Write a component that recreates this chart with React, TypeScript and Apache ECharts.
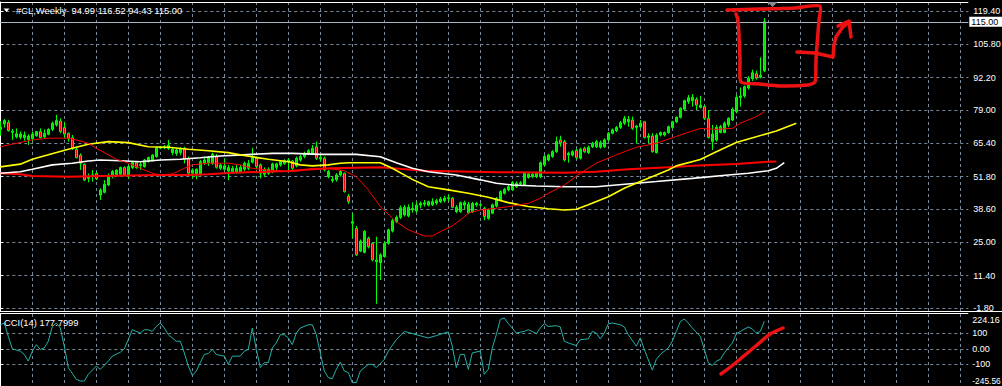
import React, { useEffect, useRef } from "react";
import * as echarts from "echarts";

// ---------- data ----------
// weekly OHLC of #CL, one row per bar: [open, high, low, close]
const ohlc: number[][] = [
  [71.0, 74.5, 68.5, 72.0], [73.3, 75.3, 71.8, 74.7], [74.0, 75.0, 70.2, 70.6], [69.9, 71.3, 66.8, 70.4],
  [68.1, 71.5, 67.4, 69.3], [67.9, 70.2, 67.0, 69.2], [67.7, 70.2, 66.5, 68.8], [67.0, 69.1, 64.7, 68.4],
  [67.3, 70.2, 66.1, 69.2], [68.5, 70.4, 68.1, 70.2], [70.2, 71.5, 67.4, 67.7], [68.1, 71.1, 67.4, 69.5],
  [69.1, 71.5, 68.7, 71.1], [71.1, 74.3, 70.4, 73.6], [72.9, 77.0, 72.2, 74.7], [74.5, 75.6, 69.5, 70.2],
  [71.9, 74.2, 67.4, 69.2], [69.5, 69.8, 66.1, 67.4], [67.7, 68.8, 62.7, 63.4], [62.9, 64.1, 59.3, 59.5],
  [60.6, 61.3, 54.5, 57.2], [56.8, 57.2, 50.0, 50.4], [51.1, 53.1, 49.5, 51.8], [51.8, 54.5, 49.8, 52.5],
  [53.1, 53.8, 50.4, 50.9], [44.3, 47.0, 42.3, 46.4], [45.4, 50.4, 45.0, 48.7], [48.4, 53.1, 48.0, 52.1],
  [52.1, 54.5, 51.1, 53.9], [52.5, 54.8, 51.8, 54.5], [52.8, 55.9, 52.1, 55.5], [55.5, 56.0, 52.0, 52.5],
  [52.5, 56.6, 50.9, 55.9], [55.5, 58.2, 54.9, 57.6], [57.5, 58.0, 55.0, 55.5], [56.3, 57.6, 54.5, 56.8],
  [55.9, 59.0, 55.5, 58.6], [57.9, 60.0, 57.6, 59.6], [58.6, 61.0, 58.0, 60.6], [60.0, 64.0, 59.5, 63.6],
  [63.4, 64.3, 63.0, 63.8], [63.6, 64.7, 63.0, 63.9], [63.4, 66.8, 62.7, 64.7], [61.6, 64.0, 60.6, 63.0],
  [61.3, 63.4, 60.3, 62.7], [61.6, 63.8, 60.6, 63.0], [63.4, 64.0, 57.2, 58.9], [59.3, 60.0, 52.5, 53.2],
  [53.2, 55.2, 51.1, 54.5], [52.5, 55.2, 50.7, 54.8], [52.5, 58.6, 52.1, 57.9], [57.5, 60.0, 56.6, 58.6],
  [57.5, 60.2, 56.2, 59.7], [57.2, 61.6, 56.6, 60.9], [60.0, 61.0, 55.1, 55.6], [55.2, 57.2, 54.5, 56.6],
  [54.8, 59.3, 54.3, 56.2], [54.1, 56.6, 50.4, 55.5], [53.8, 56.2, 53.2, 55.2], [53.6, 56.6, 52.9, 55.2],
  [53.4, 56.6, 53.2, 55.6], [54.8, 57.9, 54.1, 57.2], [55.2, 58.6, 54.5, 57.2], [57.7, 63.6, 57.2, 60.0],
  [59.3, 60.0, 54.8, 55.9], [56.6, 57.2, 51.1, 53.2], [52.8, 55.6, 51.8, 54.8], [53.2, 55.6, 52.5, 54.8],
  [53.8, 57.5, 53.2, 57.0], [55.6, 57.5, 54.3, 57.0], [56.6, 58.6, 55.9, 57.9], [57.2, 58.9, 56.6, 58.3],
  [57.9, 59.3, 54.5, 58.6], [58.2, 58.6, 54.5, 55.2], [56.2, 60.0, 55.6, 59.3], [58.6, 60.6, 57.9, 60.0],
  [60.0, 62.0, 59.3, 61.3], [61.0, 63.0, 60.6, 62.4], [61.3, 64.7, 60.6, 63.4], [64.0, 66.1, 58.6, 59.3],
  [59.0, 60.6, 57.9, 59.6], [59.3, 60.0, 53.9, 54.5], [51.8, 54.5, 51.1, 53.9], [50.2, 51.8, 49.4, 50.7],
  [50.5, 53.2, 49.8, 52.5], [52.5, 54.5, 51.8, 53.9], [53.2, 53.5, 45.3, 45.7], [43.9, 44.7, 40.7, 41.6],
  [32.8, 36.9, 26.6, 33.4], [30.7, 31.7, 19.4, 19.9], [21.4, 26.2, 21.0, 25.5], [20.9, 30.0, 20.5, 29.4],
  [26.7, 27.3, 22.5, 23.2], [24.6, 25.0, 17.3, 17.8], [17.1, 27.3, -0.1, 17.8], [16.7, 20.6, 9.6, 19.9],
  [19.2, 25.5, 18.7, 24.6], [24.6, 30.6, 24.0, 30.1], [29.6, 34.5, 29.0, 33.8], [33.4, 36.0, 32.8, 35.2],
  [35.2, 40.0, 34.5, 39.1], [36.2, 40.2, 35.5, 39.3], [35.8, 40.5, 35.2, 39.3], [38.2, 41.3, 37.1, 38.9],
  [37.8, 41.6, 37.1, 40.2], [40.2, 41.6, 38.9, 40.9], [40.6, 42.3, 39.6, 41.1], [40.2, 42.0, 39.6, 41.6],
  [40.3, 43.0, 39.8, 41.6], [41.0, 42.7, 40.3, 42.0], [41.6, 43.5, 41.0, 42.7], [42.0, 44.0, 41.3, 43.0],
  [42.8, 44.5, 41.6, 43.2], [43.0, 43.5, 38.9, 39.3], [37.5, 40.2, 36.9, 39.3], [37.5, 41.6, 37.1, 41.2],
  [40.2, 42.0, 38.5, 41.2], [37.1, 41.5, 36.5, 40.5], [37.5, 41.5, 37.0, 40.9], [40.3, 41.5, 39.5, 40.9],
  [40.2, 41.0, 39.5, 40.4], [38.9, 39.5, 34.0, 35.5], [34.8, 38.8, 34.2, 38.2], [36.9, 40.8, 36.5, 40.3],
  [39.8, 43.5, 39.2, 43.0], [42.3, 46.2, 41.8, 45.7], [45.0, 47.2, 44.5, 46.6], [46.4, 48.2, 45.8, 47.7],
  [46.4, 50.0, 46.0, 49.4], [47.7, 49.8, 47.2, 49.1], [48.9, 50.0, 48.2, 49.3], [48.4, 53.8, 48.0, 53.2],
  [51.5, 53.8, 51.0, 52.9], [51.8, 53.6, 51.2, 52.8], [51.8, 53.8, 51.2, 53.2], [51.8, 58.0, 51.2, 57.5],
  [56.6, 60.6, 56.0, 60.0], [58.6, 61.2, 58.0, 60.6], [60.0, 62.6, 59.5, 62.0], [62.0, 68.1, 61.5, 66.1],
  [66.8, 68.5, 64.0, 65.6], [66.1, 66.8, 58.0, 58.6], [60.6, 62.0, 57.5, 61.3], [60.6, 62.6, 60.0, 62.0],
  [62.5, 63.2, 58.8, 59.5], [59.3, 63.6, 58.8, 63.0], [63.4, 64.0, 61.5, 62.0], [61.6, 64.5, 61.0, 63.8],
  [64.0, 66.0, 63.5, 65.4], [64.0, 66.8, 63.5, 66.1], [63.8, 66.5, 63.2, 65.7], [64.0, 67.4, 63.5, 66.8],
  [66.8, 70.0, 66.2, 69.5], [69.5, 71.5, 69.0, 70.9], [70.6, 72.5, 70.0, 71.9], [71.9, 74.5, 71.3, 73.8],
  [73.6, 76.6, 72.9, 75.6], [74.2, 76.6, 72.2, 75.2], [74.9, 76.3, 70.9, 71.5], [71.9, 72.9, 65.4, 72.5],
  [72.2, 74.9, 71.5, 73.6], [74.2, 74.3, 67.4, 67.8], [67.8, 69.5, 65.4, 68.4], [68.4, 69.5, 61.6, 62.0],
  [61.6, 69.5, 61.3, 68.8], [68.8, 70.2, 68.2, 69.8], [68.8, 70.2, 68.2, 69.8], [69.8, 72.6, 69.3, 72.2],
  [71.9, 74.6, 71.4, 74.2], [74.2, 76.4, 73.7, 76.0], [76.0, 80.1, 75.5, 79.7], [79.3, 83.2, 78.8, 82.8],
  [82.4, 85.1, 81.5, 84.0], [82.8, 85.5, 80.4, 84.2], [83.4, 84.2, 79.0, 81.0], [80.1, 84.7, 79.7, 81.0],
  [80.4, 81.0, 74.9, 75.6], [75.6, 79.0, 67.4, 67.8], [66.1, 72.9, 62.7, 69.2], [66.8, 72.9, 66.1, 71.9],
  [69.8, 72.9, 69.5, 72.2], [69.8, 74.3, 69.5, 73.6], [72.9, 76.0, 72.0, 75.6], [74.9, 80.0, 74.5, 79.3],
  [78.3, 85.1, 77.6, 84.2], [84.0, 88.2, 80.4, 84.7], [84.7, 89.0, 84.0, 88.5], [88.0, 92.8, 87.3, 92.0],
  [91.8, 95.5, 90.8, 94.2], [93.8, 95.0, 91.4, 92.0], [92.4, 100.5, 91.9, 93.2], [94.99, 116.52, 94.43, 115.0],
];

// moving averages: [bar index, price]
const maFastRed: number[][] = [
  [0, 64.0], [8, 66.8], [12, 67.5], [17, 67.5], [19, 66.8], [22, 65.4], [24, 63.4], [27, 60.7], [29, 58.9],
  [32, 57.3], [35, 55.2], [38, 53.2], [40, 52.5], [43, 52.9], [46, 55.2], [48, 56.6], [52, 57.3], [57, 57.3],
  [60, 56.6], [63, 55.2], [67, 54.5], [72, 53.8], [75, 54.2], [78, 55.2], [82, 55.2], [86, 54.2], [89, 51.8],
  [92, 46.4], [95, 39.6], [99, 33.4], [102, 30.1], [106, 27.6], [108, 27.6], [110, 29.4], [113, 31.7],
  [115, 34.1], [117, 36.9], [120, 38.2], [124, 38.9], [128, 39.8], [132, 40.9], [135, 43.0], [137, 45.0],
  [141, 48.4], [145, 53.2], [149, 57.3], [154, 60.7], [159, 63.8], [164, 65.4], [170, 68.8], [175, 71.5],
  [179, 71.1], [183, 71.5], [185, 73.6], [189, 76.3], [191, 78.3],
];
const maYellow: number[][] = [
  [0, 55.8], [5, 56.9], [8, 58.9], [12, 60.7], [17, 63.0], [22, 65.0], [27, 66.1], [32, 65.7], [37, 64.0],
  [42, 63.8], [47, 63.0], [52, 62.4], [57, 61.6], [60, 60.7], [63, 59.9], [67, 58.9], [72, 57.9], [75, 56.6],
  [78, 56.2], [82, 56.6], [85, 57.3], [87, 57.5], [95, 57.5], [98, 55.2], [103, 50.7], [107, 47.7],
  [112, 46.4], [117, 45.0], [122, 43.4], [127, 41.2], [132, 39.6], [137, 38.7], [141, 38.2], [144, 38.5],
  [147, 40.3], [152, 43.6], [156, 47.1], [160, 49.8], [164, 52.5], [167, 54.5], [169, 56.2], [175, 58.8],
  [179, 62.0], [184, 65.7], [187, 67.2], [194, 70.4], [199, 73.6],
];
const maWhite: number[][] = [
  [0, 53.2], [5, 53.8], [8, 54.8], [13, 56.6], [18, 57.3], [22, 58.2], [25, 58.6], [30, 58.3], [35, 57.9],
  [40, 58.6], [45, 58.9], [50, 59.5], [55, 60.2], [63, 60.9], [68, 61.3], [73, 61.3], [80, 60.9], [89, 60.9],
  [95, 59.9], [99, 57.5], [103, 55.2], [107, 53.8], [114, 52.5], [120, 50.5], [124, 49.1], [128, 48.4],
  [134, 48.0], [141, 47.7], [149, 47.7], [154, 48.4], [159, 49.1], [164, 49.8], [173, 51.1], [182, 52.5],
  [187, 53.2], [192, 54.2], [194, 55.2], [196, 57.5],
];
const maSlowRed: number[][] = [
  [0, 53.2], [5, 52.8], [8, 52.1], [17, 51.8], [25, 52.1], [40, 52.5], [47, 52.5], [52, 52.8], [58, 53.4],
  [65, 53.7], [72, 54.1], [78, 54.8], [83, 55.2], [95, 55.6], [106, 54.2], [124, 53.6], [141, 53.4],
  [149, 53.8], [157, 54.8], [167, 55.6], [173, 56.2], [184, 57.0], [190, 57.7], [194, 58.0],
];

// CCI(14): [bar index, value]
const cci: number[][] = [
  [0, 155], [1, 166], [2, 80], [3, 0], [5, -15], [6, -36], [7, -79], [8, -15], [9, 27], [10, -4], [11, 6],
  [12, 49], [13, 144], [14, 166], [15, 134], [16, 17], [17, -121], [19, -196], [20, -207], [21, -207],
  [22, -164], [24, -111], [25, -132], [27, -79], [28, -47], [30, -22], [31, 0], [32, 59], [33, 123],
  [34, 112], [35, 102], [36, 123], [37, 123], [38, 112], [39, 144], [40, 166], [41, 134], [42, 91], [44, 49],
  [45, 49], [46, -26], [47, -111], [48, -171], [49, -143], [50, -89], [51, -36], [52, -30], [53, -4],
  [54, -36], [56, -47], [57, -100], [58, -47], [60, -47], [61, -15], [62, -4], [63, 134], [64, -4],
  [65, -121], [66, -89], [67, -89], [68, 6], [69, 38], [70, 91], [71, 91], [72, 70], [73, 27], [74, 102],
  [75, 134], [77, 155], [78, 155], [79, 91], [80, -26], [81, -143], [82, -185], [83, -192], [84, -132],
  [85, -85], [86, -143], [87, -153], [88, -217], [89, -217], [90, -143], [92, -100], [93, -100], [94, -121],
  [96, -68], [97, -15], [99, 59], [101, 112], [102, 106], [104, 91], [106, 77], [107, 70], [109, 85],
  [111, 102], [112, 109], [113, 17], [114, -121], [115, -36], [116, -36], [117, -132], [118, -26],
  [120, -15], [121, -164], [122, -132], [123, 6], [124, 91], [125, 190], [126, 198], [127, 162], [128, 134],
  [129, 102], [131, 112], [132, 123], [133, 112], [134, 98], [135, 134], [136, 162], [137, 144], [139, 149],
  [140, 141], [141, 49], [142, 38], [144, 21], [145, 59], [147, 64], [148, 112], [149, 102], [150, 64],
  [151, 102], [152, 162], [153, 166], [155, 155], [156, 141], [157, 91], [159, 17], [160, 70], [161, -4],
  [163, -137], [164, -68], [165, -36], [167, 6], [168, 49], [169, 112], [170, 176], [171, 192], [172, 166],
  [173, 134], [175, 80], [176, -4], [177, -89], [178, -107], [179, -79], [180, -68], [181, -26], [183, 38],
  [184, 96], [185, 112], [187, 141], [188, 128], [189, 102], [190, 112], [191, 177.7999],
];

const priceTicks = [119.4, 105.8, 92.2, 79.0, 65.4, 51.8, 38.6, 25.0, 11.4, -1.8];
const cciGridValues = [100, 0, -100];
const cciLabelValues = [224.16, 100, 0, -100, -245.56];
const cciLabelTexts = ["224.16", "100", "0.00", "-100", "-245.56"];
const lastPrice = 115.0;
const titleText = "#CL,Weekly  94.99 116.52 94.43 115.00";
const cciText = "CCI(14) 177.7999";

// ---------- layout / style ----------
const FONT = "Liberation Sans, Arial, sans-serif";
const GRID_COLOR = "#778899";
const PLOT_LEFT = 0.3;
const PLOT_W = 968;
const AXIS_X = PLOT_LEFT + PLOT_W;
const PEN = "#ee1111";

const splitDash = { show: true, lineStyle: { color: GRID_COLOR, type: [3, 3] as any, width: 1 } };

const candleData = ohlc.map((r, i) => [i, r[0], r[3], r[2], r[1]]);

function cciFormatter(v: number) {
  const k = cciLabelValues.findIndex((x) => Math.abs(x - v) < 1e-6);
  const t = k >= 0 ? cciLabelTexts[k] : String(v);
  if (k === 0) return `{t|${t}}`;
  if (k === cciLabelValues.length - 1) return `{b|${t}}`;
  return t;
}

const option: any = {
  animation: false,
  backgroundColor: "#000000",
  grid: [
    { left: PLOT_LEFT, width: PLOT_W, top: 2, height: 309, outerBoundsMode: "none", containLabel: false },
    { left: PLOT_LEFT, width: PLOT_W, top: 314, height: 73, outerBoundsMode: "none", containLabel: false },
  ],
  xAxis: [0, 1].map((g) => ({
    type: "value",
    gridIndex: g,
    min: 0,
    max: 242,
    interval: 8,
    axisLine: { show: false },
    axisTick: { show: false },
    axisLabel: { show: false },
    splitLine: { ...splitDash, showMinLine: false, showMaxLine: false },
  })),
  yAxis: [
    {
      type: "value",
      gridIndex: 0,
      position: "right",
      min: -3.02,
      max: 123.07,
      axisLine: { show: true, lineStyle: { color: "#ffffff", width: 1 } },
      axisTick: { show: true, inside: false, length: 3, lineStyle: { color: "#ffffff" }, customValues: priceTicks },
      axisLabel: {
        show: true,
        color: "#ffffff",
        fontSize: 9,
        fontFamily: FONT,
        margin: 5,
        customValues: priceTicks,
        formatter: (v: number) => v.toFixed(2),
      },
      splitLine: splitDash,
    },
    {
      type: "value",
      gridIndex: 1,
      position: "right",
      min: -245.56,
      max: 224.16,
      axisLine: { show: true, lineStyle: { color: "#ffffff", width: 1 } },
      axisTick: { show: true, inside: false, length: 3, lineStyle: { color: "#ffffff" }, customValues: cciGridValues },
      axisLabel: {
        show: true,
        color: "#ffffff",
        fontSize: 9,
        fontFamily: FONT,
        margin: 4,
        customValues: cciLabelValues,
        formatter: cciFormatter,
        rich: {
          t: { padding: [12, 0, 0, 0], color: "#ffffff", fontSize: 9, fontFamily: FONT },
          b: { padding: [0, 0, 12, 0], color: "#ffffff", fontSize: 8.4, fontFamily: FONT },
        },
      },
      splitLine: splitDash,
    },
  ],
  series: [
    {
      type: "candlestick",
      name: "#CL",
      xAxisIndex: 0,
      yAxisIndex: 0,
      data: candleData,
      encode: { x: 0, y: [1, 2, 3, 4] },
      barWidth: 2.4,
      z: 3,
      itemStyle: {
        color: "#00e600",
        color0: "#ff0000",
        borderColor: "#00ff00",
        borderColor0: "#00ff00",
        borderWidth: 1,
      },
      markLine: {
        silent: true,
        symbol: ["none", "none"],
        lineStyle: { color: "#a9b4c2", type: "solid", width: 1 },
        label: {
          show: true,
          position: "end",
          distance: 1,
          formatter: () => lastPrice.toFixed(2),
          color: "#000000",
          backgroundColor: "#ffffff",
          fontSize: 9,
          fontFamily: FONT,
          padding: [1, 4, 0, 2],
        },
        data: [{ yAxis: lastPrice }],
      },
    },
    {
      type: "line", name: "MA slow", xAxisIndex: 0, yAxisIndex: 0, data: maSlowRed,
      showSymbol: false, symbol: "none", z: 4, lineStyle: { color: "#ff0000", width: 2 },
    },
    {
      type: "line", name: "MA white", xAxisIndex: 0, yAxisIndex: 0, data: maWhite,
      showSymbol: false, symbol: "none", z: 4, lineStyle: { color: "#ffffff", width: 1.6 },
    },
    {
      type: "line", name: "MA yellow", xAxisIndex: 0, yAxisIndex: 0, data: maYellow,
      showSymbol: false, symbol: "none", z: 4, lineStyle: { color: "#ffff00", width: 1.6 },
    },
    {
      type: "line", name: "MA fast", xAxisIndex: 0, yAxisIndex: 0, data: maFastRed,
      showSymbol: false, symbol: "none", z: 4, lineStyle: { color: "#ff0000", width: 1 },
    },
    {
      type: "line", name: "CCI(14)", xAxisIndex: 1, yAxisIndex: 1, data: cci,
      showSymbol: false, symbol: "none", z: 4, lineStyle: { color: "#20b2aa", width: 1 },
    },
  ],
  graphic: [
    { type: "line", silent: true, z: 50, shape: { x1: 0, y1: 2.5, x2: AXIS_X, y2: 2.5 }, style: { stroke: "#ffffff", lineWidth: 1 } },
    { type: "line", silent: true, z: 50, shape: { x1: 0, y1: 311.5, x2: 1002, y2: 311.5 }, style: { stroke: "#ffffff", lineWidth: 1 } },
    { type: "line", silent: true, z: 50, shape: { x1: 0, y1: 313.5, x2: AXIS_X, y2: 313.5 }, style: { stroke: "#ffffff", lineWidth: 1 } },
    { type: "polygon", silent: true, z: 51, shape: { points: [[767.5, 2], [777.5, 2], [772.5, 7]] }, style: { fill: "#8c8c8c" } },
    { type: "polygon", silent: true, z: 51, shape: { points: [[3.5, 8.5], [9.5, 8.5], [6.5, 12]] }, style: { fill: "#ffffff" } },
    {
      type: "text", silent: true, z: 51, x: 16, y: 10.5,
      style: { text: titleText, fill: "#ffffff", fontSize: 9.4, fontFamily: FONT, verticalAlign: "middle", align: "left" },
    },
    {
      type: "text", silent: true, z: 51, x: 4, y: 322.5,
      style: { text: cciText, fill: "#ffffff", fontSize: 9.4, fontFamily: FONT, verticalAlign: "middle", align: "left" },
    },
    // hand-drawn red annotations
    {
      type: "polyline", silent: true, z: 60,
      shape: {
        smooth: 0.2,
        points: [[727, 10], [760, 9], [795, 8], [820, 6], [819, 20], [817, 45], [816, 60], [815, 82], [808, 85],
          [780, 86], [760, 84], [741, 82], [740, 60], [739, 35], [738, 20], [736, 14]],
      },
      style: { stroke: PEN, lineWidth: 3.5, fill: null, lineCap: "round", lineJoin: "round" },
    },
    {
      type: "polyline", silent: true, z: 60,
      shape: { points: [[797, 52], [815, 53], [833, 57], [834, 45], [836, 37], [842, 28], [849, 22]] },
      style: { stroke: PEN, lineWidth: 3.5, fill: null, lineCap: "round", lineJoin: "round" },
    },
    {
      type: "polyline", silent: true, z: 60,
      shape: { points: [[838, 26], [849, 21], [851, 37]] },
      style: { stroke: PEN, lineWidth: 3.5, fill: null, lineCap: "round", lineJoin: "round" },
    },
    {
      type: "polyline", silent: true, z: 60,
      shape: { smooth: 0.2, points: [[721, 374], [733, 365], [745, 355], [757, 345], [770, 334], [783, 328]] },
      style: { stroke: PEN, lineWidth: 3.5, fill: null, lineCap: "round", lineJoin: "round" },
    },
  ],
};

export default function App() {
  const ref = useRef<HTMLDivElement>(null);
  useEffect(() => {
    if (!ref.current) return;
    const chart = echarts.init(ref.current, null, { renderer: "svg" });
    chart.setOption(option);
    return () => chart.dispose();
  }, []);
  return (
    <div
      ref={ref}
      style={{ position: "fixed", left: 0, top: 0, width: 1002, height: 386, background: "#000000" }}
    />
  );
}
